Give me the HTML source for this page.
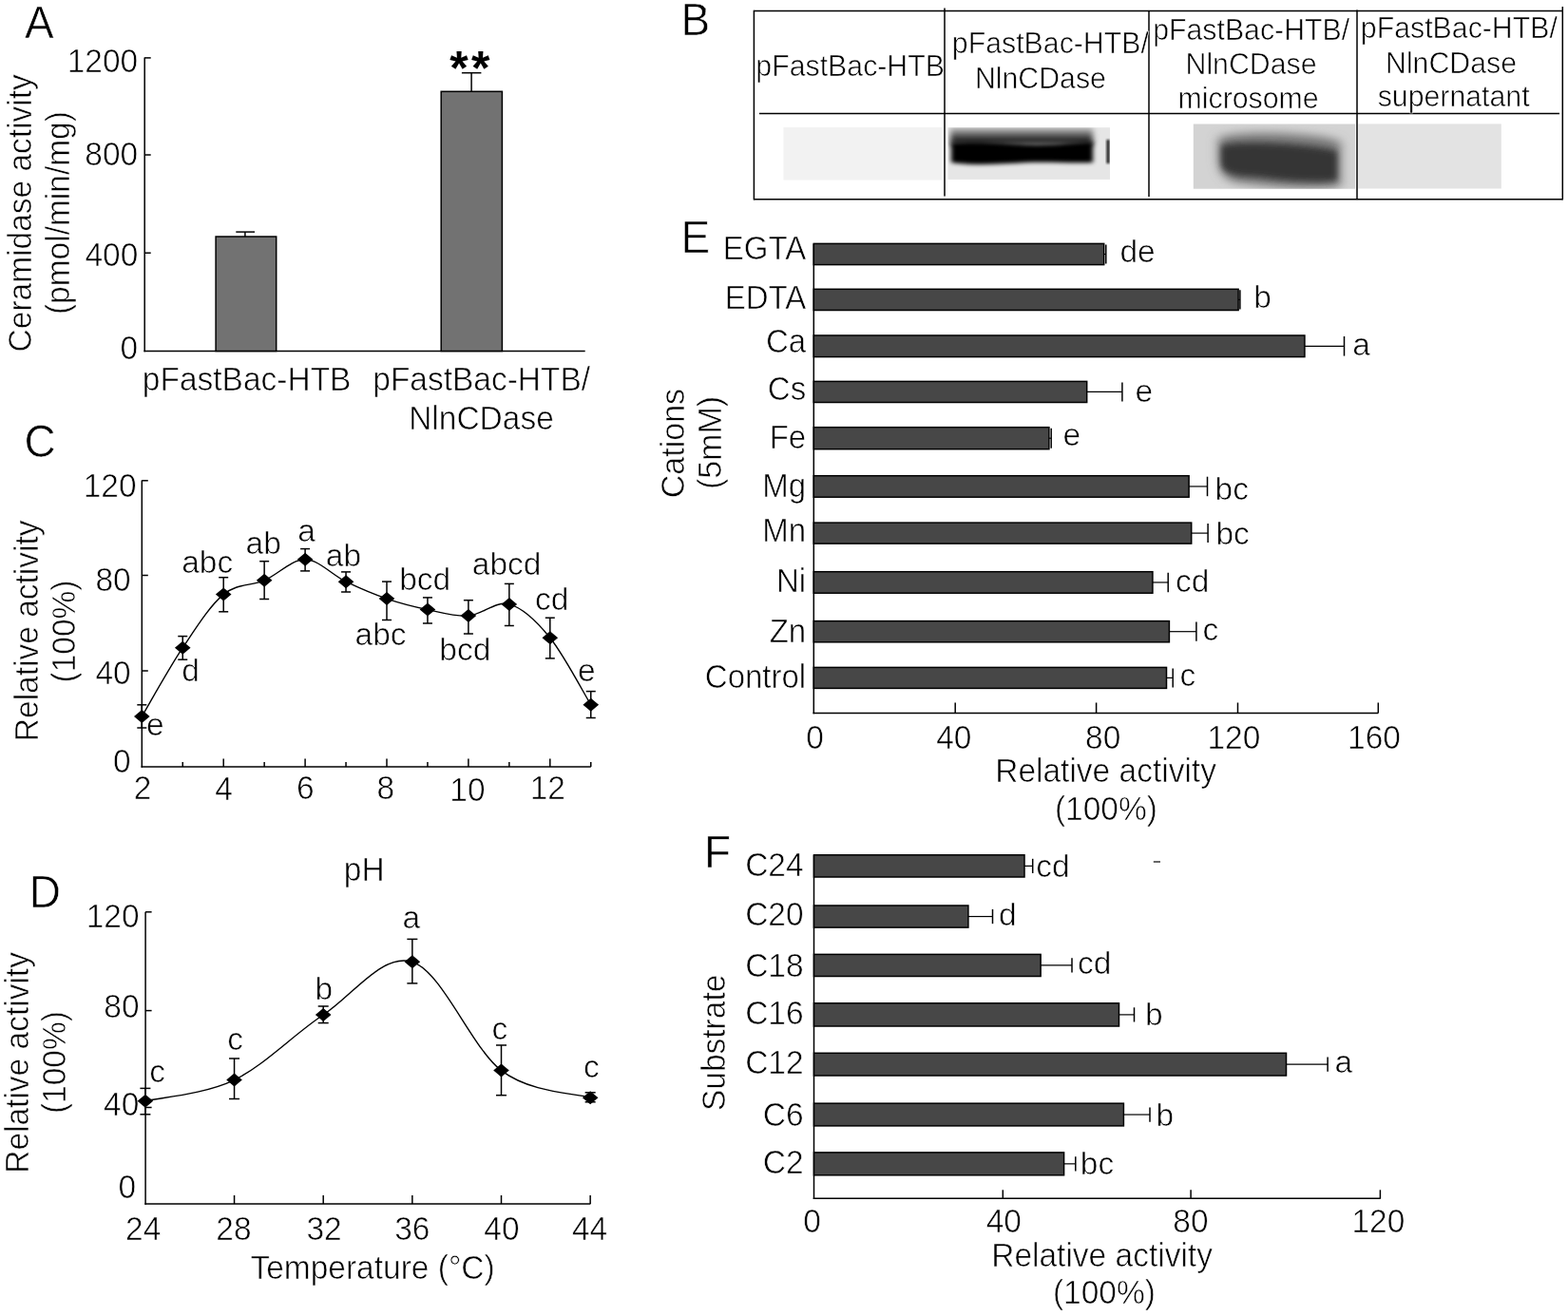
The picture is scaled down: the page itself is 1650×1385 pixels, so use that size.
<!DOCTYPE html>
<html><head><meta charset="utf-8"><title>Figure</title>
<style>
html,body{margin:0;padding:0;background:#fff;}
svg{display:block;}
svg text{font-family:"Liberation Sans", Arial, sans-serif;fill:#000;}
</style></head>
<body>
<svg width="1650" height="1385" viewBox="0 0 1650 1385">
<rect x="0" y="0" width="1650" height="1385" fill="#fff"/>
<text transform="translate(25.91,40.00) scale(1,1.045)" font-size="46" stroke="#fff" stroke-width="0.6">A</text>
<line x1="152.20" y1="60.40" x2="152.20" y2="370.25" stroke="#000" stroke-width="1.5"/>
<line x1="151.45" y1="369.50" x2="615.70" y2="369.50" stroke="#000" stroke-width="1.5"/>
<line x1="152.20" y1="60.90" x2="158.70" y2="60.90" stroke="#000" stroke-width="1.5"/>
<line x1="152.20" y1="163.00" x2="158.70" y2="163.00" stroke="#000" stroke-width="1.5"/>
<line x1="152.20" y1="266.20" x2="158.70" y2="266.20" stroke="#000" stroke-width="1.5"/>
<text transform="translate(70.70,75.55) scale(1,1.045)" font-size="33.5" stroke="#fff" stroke-width="0.6">1200</text>
<text transform="translate(89.33,174.15) scale(1,1.045)" font-size="33.5" stroke="#fff" stroke-width="0.6">800</text>
<text transform="translate(89.43,279.85) scale(1,1.045)" font-size="33.5" stroke="#fff" stroke-width="0.6">400</text>
<text transform="translate(126.58,378.15) scale(1,1.045)" font-size="33.5" stroke="#fff" stroke-width="0.6">0</text>
<rect x="227.10" y="249.00" width="63.60" height="120.50" fill="#727272" stroke="#000" stroke-width="1.5"/>
<rect x="464.20" y="96.30" width="64.20" height="273.20" fill="#727272" stroke="#000" stroke-width="1.5"/>
<line x1="257.90" y1="249.00" x2="257.90" y2="244.10" stroke="#000" stroke-width="1.5"/>
<line x1="248.30" y1="244.10" x2="268.00" y2="244.10" stroke="#000" stroke-width="1.5"/>
<line x1="496.10" y1="96.30" x2="496.10" y2="76.70" stroke="#000" stroke-width="1.5"/>
<line x1="485.90" y1="76.70" x2="506.40" y2="76.70" stroke="#000" stroke-width="1.5"/>
<text transform="translate(473.15,88.60) scale(1,1.0)" font-size="50" font-weight="bold" letter-spacing="3.5">**</text>
<text transform="translate(149.86,411.00) scale(1,1.045)" font-size="33.5" stroke="#fff" stroke-width="0.6">pFastBac-HTB</text>
<text transform="translate(392.26,411.00) scale(1,1.045)" font-size="33.5" stroke="#fff" stroke-width="0.6">pFastBac-HTB/</text>
<text transform="translate(430.15,452.30) scale(1,1.045)" font-size="33.5" stroke="#fff" stroke-width="0.6">NlnCDase</text>
<text transform="translate(33.00,368.70) rotate(-90) scale(1,1.045)" x="-1.71" y="0" font-size="33.5" stroke="#fff" stroke-width="0.6">Ceramidase activity</text>
<text transform="translate(72.80,329.00) rotate(-90) scale(1,1.045)" x="-2.08" y="0" font-size="33.5" stroke="#fff" stroke-width="0.6">(pmol/min/mg)</text>
<text transform="translate(716.53,36.60) scale(1,1.045)" font-size="46" stroke="#fff" stroke-width="0.6">B</text>
<line x1="793.40" y1="11.50" x2="1644.30" y2="11.50" stroke="#000" stroke-width="1.5"/>
<line x1="793.40" y1="209.70" x2="1644.30" y2="209.70" stroke="#000" stroke-width="1.5"/>
<line x1="793.40" y1="10.75" x2="793.40" y2="210.45" stroke="#000" stroke-width="1.5"/>
<line x1="1644.30" y1="7.00" x2="1644.30" y2="210.45" stroke="#000" stroke-width="1.5"/>
<line x1="799.00" y1="119.50" x2="1641.00" y2="119.50" stroke="#000" stroke-width="1.5"/>
<line x1="994.00" y1="8.50" x2="994.00" y2="206.50" stroke="#000" stroke-width="1.5"/>
<line x1="1209.00" y1="11.50" x2="1209.00" y2="207.00" stroke="#000" stroke-width="1.5"/>
<line x1="1428.00" y1="10.50" x2="1428.00" y2="209.00" stroke="#000" stroke-width="1.5"/>
<text transform="translate(795.36,79.80) scale(1,1.045)" font-size="30.3" stroke="#fff" stroke-width="0.6">pFastBac-HTB</text>
<text transform="translate(1001.86,56.40) scale(1,1.045)" font-size="30.3" stroke="#fff" stroke-width="0.6">pFastBac-HTB/</text>
<text transform="translate(1025.92,92.90) scale(1,1.045)" font-size="30.3" stroke="#fff" stroke-width="0.6">NlnCDase</text>
<text transform="translate(1213.16,41.60) scale(1,1.045)" font-size="30.3" stroke="#fff" stroke-width="0.6">pFastBac-HTB/</text>
<text transform="translate(1247.52,78.10) scale(1,1.045)" font-size="30.3" stroke="#fff" stroke-width="0.6">NlnCDase</text>
<text transform="translate(1239.60,114.00) scale(1,1.045)" font-size="30.3" stroke="#fff" stroke-width="0.6">microsome</text>
<text transform="translate(1431.86,39.70) scale(1,1.045)" font-size="30.3" stroke="#fff" stroke-width="0.6">pFastBac-HTB/</text>
<text transform="translate(1458.02,77.00) scale(1,1.045)" font-size="30.3" stroke="#fff" stroke-width="0.6">NlnCDase</text>
<text transform="translate(1449.65,112.00) scale(1,1.045)" font-size="30.3" stroke="#fff" stroke-width="0.6">supernatant</text>
<defs>
<filter id="bl2" x="-10%" y="-40%" width="120%" height="180%"><feGaussianBlur stdDeviation="2.6 2.2"/></filter>
<filter id="bl2b" x="-10%" y="-40%" width="120%" height="180%"><feGaussianBlur stdDeviation="3 3"/></filter>
<filter id="bl1" x="-50%" y="-20%" width="200%" height="140%"><feGaussianBlur stdDeviation="1.2"/></filter>
<filter id="bl3" x="-20%" y="-50%" width="140%" height="200%"><feGaussianBlur stdDeviation="6 5"/></filter>
<filter id="bl3b" x="-20%" y="-50%" width="140%" height="200%"><feGaussianBlur stdDeviation="3.2 3.5"/></filter>
<clipPath id="cb2"><rect x="997.5" y="134.2" width="170.5" height="54.7"/></clipPath>
<clipPath id="cb3"><rect x="1255.8" y="130.5" width="170.4" height="68.2"/></clipPath>
<linearGradient id="g2" x1="0" y1="0" x2="0" y2="1">
<stop offset="0" stop-color="#c4c4c4"/><stop offset="0.3" stop-color="#7a7a7a"/><stop offset="0.65" stop-color="#262626"/><stop offset="1" stop-color="#000"/>
</linearGradient>
</defs>
<rect x="824.50" y="134.00" width="166.50" height="55.50" fill="#f2f2f2" stroke="none" stroke-width="0"/>
<rect x="997.5" y="134.2" width="170.5" height="54.7" fill="#e6e6e6"/>
<g clip-path="url(#cb2)"><g filter="url(#bl2b)"><rect x="1000" y="134" width="150" height="18" fill="url(#g2)"/></g><g filter="url(#bl2)"><path d="M1001,150 C1030,148 1060,151 1080,152 C1110,153 1135,149 1150,149 L1150,171 C1130,172 1100,170 1080,171 C1050,173 1020,174 1001,171 Z" fill="#000"/></g><g filter="url(#bl1)"><rect x="1164.5" y="147" width="3" height="25" fill="#111"/></g></g>
<rect x="1255.8" y="130.5" width="170.4" height="68.2" fill="#d3d3d3"/>
<g clip-path="url(#cb3)"><g filter="url(#bl3)"><path d="M1282,145 C1300,136 1390,139 1411,149 L1411,196 C1390,200 1340,198 1300,192 C1285,188 1281,176 1282,158 Z" fill="#7a7a7a"/></g><g filter="url(#bl3b)"><path d="M1285,153 C1310,147 1380,152 1407,159 L1407,190 C1380,193 1350,190 1320,186 C1300,186 1285,182 1285,172 Z" fill="#363636"/></g></g>
<rect x="1429.30" y="130.40" width="150.50" height="68.10" fill="#e3e3e3" stroke="none" stroke-width="0"/>
<text transform="translate(25.55,480.52) scale(1,1.045)" font-size="46" stroke="#fff" stroke-width="0.6">C</text>
<line x1="149.30" y1="505.50" x2="149.30" y2="807.85" stroke="#000" stroke-width="1.5"/>
<line x1="148.55" y1="807.10" x2="621.80" y2="807.10" stroke="#000" stroke-width="1.5"/>
<line x1="149.30" y1="505.80" x2="155.80" y2="505.80" stroke="#000" stroke-width="1.5"/>
<line x1="149.30" y1="605.50" x2="155.80" y2="605.50" stroke="#000" stroke-width="1.5"/>
<line x1="149.30" y1="706.00" x2="155.80" y2="706.00" stroke="#000" stroke-width="1.5"/>
<line x1="192.25" y1="807.10" x2="192.25" y2="802.10" stroke="#000" stroke-width="1.5"/>
<line x1="235.20" y1="807.10" x2="235.20" y2="798.50" stroke="#000" stroke-width="1.5"/>
<line x1="278.15" y1="807.10" x2="278.15" y2="802.10" stroke="#000" stroke-width="1.5"/>
<line x1="321.10" y1="807.10" x2="321.10" y2="798.50" stroke="#000" stroke-width="1.5"/>
<line x1="364.05" y1="807.10" x2="364.05" y2="802.10" stroke="#000" stroke-width="1.5"/>
<line x1="407.00" y1="807.10" x2="407.00" y2="798.50" stroke="#000" stroke-width="1.5"/>
<line x1="449.95" y1="807.10" x2="449.95" y2="802.10" stroke="#000" stroke-width="1.5"/>
<line x1="492.90" y1="807.10" x2="492.90" y2="798.50" stroke="#000" stroke-width="1.5"/>
<line x1="535.85" y1="807.10" x2="535.85" y2="802.10" stroke="#000" stroke-width="1.5"/>
<line x1="578.80" y1="807.10" x2="578.80" y2="798.50" stroke="#000" stroke-width="1.5"/>
<line x1="621.75" y1="807.10" x2="621.75" y2="802.10" stroke="#000" stroke-width="1.5"/>
<text transform="translate(87.73,522.55) scale(1,1.045)" font-size="33.5" stroke="#fff" stroke-width="0.6">120</text>
<text transform="translate(100.45,621.95) scale(1,1.045)" font-size="33.5" stroke="#fff" stroke-width="0.6">80</text>
<text transform="translate(100.45,719.95) scale(1,1.045)" font-size="33.5" stroke="#fff" stroke-width="0.6">40</text>
<text transform="translate(119.08,812.65) scale(1,1.045)" font-size="33.5" stroke="#fff" stroke-width="0.6">0</text>
<text transform="translate(140.69,841.30) scale(1,1.045)" font-size="33.5" stroke="#fff" stroke-width="0.6">2</text>
<text transform="translate(226.19,841.50) scale(1,1.045)" font-size="33.5" stroke="#fff" stroke-width="0.6">4</text>
<text transform="translate(312.07,841.15) scale(1,1.045)" font-size="33.5" stroke="#fff" stroke-width="0.6">6</text>
<text transform="translate(396.59,841.15) scale(1,1.045)" font-size="33.5" stroke="#fff" stroke-width="0.6">8</text>
<text transform="translate(473.35,843.15) scale(1,1.045)" font-size="33.5" stroke="#fff" stroke-width="0.6">10</text>
<text transform="translate(557.64,841.20) scale(1,1.045)" font-size="33.5" stroke="#fff" stroke-width="0.6">12</text>
<text transform="translate(39.80,777.40) rotate(-90) scale(1,1.045)" x="-2.75" y="0" font-size="33.5" stroke="#fff" stroke-width="0.6">Relative activity</text>
<text transform="translate(78.60,716.40) rotate(-90) scale(1,1.045)" x="-2.08" y="0" font-size="33.5" stroke="#fff" stroke-width="0.6">(100%)</text>
<path d="M149.30,754.00 C156.46,741.95 177.93,703.10 192.25,681.70 C206.57,660.30 220.88,637.42 235.20,625.60 C249.52,613.78 263.83,616.93 278.15,610.80 C292.47,604.67 306.78,588.57 321.10,588.80 C335.42,589.03 349.73,605.32 364.05,612.20 C378.37,619.08 392.68,625.20 407.00,630.10 C421.32,635.00 435.63,638.60 449.95,641.60 C464.27,644.60 478.58,649.05 492.90,648.10 C507.22,647.15 521.53,632.05 535.85,635.90 C550.17,639.75 564.48,653.57 578.80,671.20 C593.12,688.83 614.59,729.95 621.75,741.70" fill="none" stroke="#000" stroke-width="1.4"/>
<line x1="149.30" y1="741.80" x2="149.30" y2="766.00" stroke="#000" stroke-width="1.5"/>
<line x1="144.30" y1="741.80" x2="154.30" y2="741.80" stroke="#000" stroke-width="1.5"/>
<line x1="144.30" y1="766.00" x2="154.30" y2="766.00" stroke="#000" stroke-width="1.5"/>
<path d="M141.00,754.00 L149.30,747.00 L157.60,754.00 L149.30,761.00 Z" fill="#000"/>
<line x1="192.25" y1="669.60" x2="192.25" y2="694.20" stroke="#000" stroke-width="1.5"/>
<line x1="187.25" y1="669.60" x2="197.25" y2="669.60" stroke="#000" stroke-width="1.5"/>
<line x1="187.25" y1="694.20" x2="197.25" y2="694.20" stroke="#000" stroke-width="1.5"/>
<path d="M183.95,681.70 L192.25,674.70 L200.55,681.70 L192.25,688.70 Z" fill="#000"/>
<line x1="235.20" y1="607.70" x2="235.20" y2="643.80" stroke="#000" stroke-width="1.5"/>
<line x1="230.20" y1="607.70" x2="240.20" y2="607.70" stroke="#000" stroke-width="1.5"/>
<line x1="230.20" y1="643.80" x2="240.20" y2="643.80" stroke="#000" stroke-width="1.5"/>
<path d="M226.90,625.60 L235.20,618.60 L243.50,625.60 L235.20,632.60 Z" fill="#000"/>
<line x1="278.15" y1="590.70" x2="278.15" y2="630.50" stroke="#000" stroke-width="1.5"/>
<line x1="273.15" y1="590.70" x2="283.15" y2="590.70" stroke="#000" stroke-width="1.5"/>
<line x1="273.15" y1="630.50" x2="283.15" y2="630.50" stroke="#000" stroke-width="1.5"/>
<path d="M269.85,610.80 L278.15,603.80 L286.45,610.80 L278.15,617.80 Z" fill="#000"/>
<line x1="321.10" y1="577.60" x2="321.10" y2="600.90" stroke="#000" stroke-width="1.5"/>
<line x1="316.10" y1="577.60" x2="326.10" y2="577.60" stroke="#000" stroke-width="1.5"/>
<line x1="316.10" y1="600.90" x2="326.10" y2="600.90" stroke="#000" stroke-width="1.5"/>
<path d="M312.80,588.80 L321.10,581.80 L329.40,588.80 L321.10,595.80 Z" fill="#000"/>
<line x1="364.05" y1="601.90" x2="364.05" y2="623.00" stroke="#000" stroke-width="1.5"/>
<line x1="359.05" y1="601.90" x2="369.05" y2="601.90" stroke="#000" stroke-width="1.5"/>
<line x1="359.05" y1="623.00" x2="369.05" y2="623.00" stroke="#000" stroke-width="1.5"/>
<path d="M355.75,612.20 L364.05,605.20 L372.35,612.20 L364.05,619.20 Z" fill="#000"/>
<line x1="407.00" y1="612.10" x2="407.00" y2="652.50" stroke="#000" stroke-width="1.5"/>
<line x1="402.00" y1="612.10" x2="412.00" y2="612.10" stroke="#000" stroke-width="1.5"/>
<line x1="402.00" y1="652.50" x2="412.00" y2="652.50" stroke="#000" stroke-width="1.5"/>
<path d="M398.70,630.10 L407.00,623.10 L415.30,630.10 L407.00,637.10 Z" fill="#000"/>
<line x1="449.95" y1="628.90" x2="449.95" y2="656.00" stroke="#000" stroke-width="1.5"/>
<line x1="444.95" y1="628.90" x2="454.95" y2="628.90" stroke="#000" stroke-width="1.5"/>
<line x1="444.95" y1="656.00" x2="454.95" y2="656.00" stroke="#000" stroke-width="1.5"/>
<path d="M441.65,641.60 L449.95,634.60 L458.25,641.60 L449.95,648.60 Z" fill="#000"/>
<line x1="492.90" y1="631.70" x2="492.90" y2="667.00" stroke="#000" stroke-width="1.5"/>
<line x1="487.90" y1="631.70" x2="497.90" y2="631.70" stroke="#000" stroke-width="1.5"/>
<line x1="487.90" y1="667.00" x2="497.90" y2="667.00" stroke="#000" stroke-width="1.5"/>
<path d="M484.60,648.10 L492.90,641.10 L501.20,648.10 L492.90,655.10 Z" fill="#000"/>
<line x1="535.85" y1="614.40" x2="535.85" y2="658.50" stroke="#000" stroke-width="1.5"/>
<line x1="530.85" y1="614.40" x2="540.85" y2="614.40" stroke="#000" stroke-width="1.5"/>
<line x1="530.85" y1="658.50" x2="540.85" y2="658.50" stroke="#000" stroke-width="1.5"/>
<path d="M527.55,635.90 L535.85,628.90 L544.15,635.90 L535.85,642.90 Z" fill="#000"/>
<line x1="578.80" y1="650.20" x2="578.80" y2="692.90" stroke="#000" stroke-width="1.5"/>
<line x1="573.80" y1="650.20" x2="583.80" y2="650.20" stroke="#000" stroke-width="1.5"/>
<line x1="573.80" y1="692.90" x2="583.80" y2="692.90" stroke="#000" stroke-width="1.5"/>
<path d="M570.50,671.20 L578.80,664.20 L587.10,671.20 L578.80,678.20 Z" fill="#000"/>
<line x1="621.75" y1="727.60" x2="621.75" y2="755.50" stroke="#000" stroke-width="1.5"/>
<line x1="616.75" y1="727.60" x2="626.75" y2="727.60" stroke="#000" stroke-width="1.5"/>
<line x1="616.75" y1="755.50" x2="626.75" y2="755.50" stroke="#000" stroke-width="1.5"/>
<path d="M613.45,741.70 L621.75,734.70 L630.05,741.70 L621.75,748.70 Z" fill="#000"/>
<text transform="translate(153.89,774.30) scale(1,1.0)" font-size="33.5" stroke="#fff" stroke-width="0.6">e</text>
<text transform="translate(191.19,716.70) scale(1,1.0)" font-size="33.5" stroke="#fff" stroke-width="0.6">d</text>
<text transform="translate(191.19,603.00) scale(1,1.0)" font-size="33.5" stroke="#fff" stroke-width="0.6">abc</text>
<text transform="translate(258.59,582.70) scale(1,1.0)" font-size="33.5" stroke="#fff" stroke-width="0.6">ab</text>
<text transform="translate(313.29,569.80) scale(1,1.0)" font-size="33.5" stroke="#fff" stroke-width="0.6">a</text>
<text transform="translate(342.79,595.50) scale(1,1.0)" font-size="33.5" stroke="#fff" stroke-width="0.6">ab</text>
<text transform="translate(373.59,678.80) scale(1,1.0)" font-size="33.5" stroke="#fff" stroke-width="0.6">abc</text>
<text transform="translate(420.22,621.10) scale(1,1.0)" font-size="33.5" stroke="#fff" stroke-width="0.6">bcd</text>
<text transform="translate(462.32,695.00) scale(1,1.0)" font-size="33.5" stroke="#fff" stroke-width="0.6">bcd</text>
<text transform="translate(496.79,604.70) scale(1,1.0)" font-size="33.5" stroke="#fff" stroke-width="0.6">abcd</text>
<text transform="translate(563.09,642.30) scale(1,1.0)" font-size="33.5" stroke="#fff" stroke-width="0.6">cd</text>
<text transform="translate(608.09,716.70) scale(1,1.0)" font-size="33.5" stroke="#fff" stroke-width="0.6">e</text>
<text transform="translate(30.83,954.80) scale(1,1.045)" font-size="46" stroke="#fff" stroke-width="0.6">D</text>
<line x1="153.10" y1="959.80" x2="153.10" y2="1267.75" stroke="#000" stroke-width="1.5"/>
<line x1="152.35" y1="1267.00" x2="621.40" y2="1267.00" stroke="#000" stroke-width="1.5"/>
<line x1="153.10" y1="959.80" x2="159.60" y2="959.80" stroke="#000" stroke-width="1.5"/>
<line x1="153.10" y1="1063.60" x2="159.60" y2="1063.60" stroke="#000" stroke-width="1.5"/>
<line x1="153.10" y1="1165.50" x2="159.60" y2="1165.50" stroke="#000" stroke-width="1.5"/>
<line x1="246.55" y1="1267.00" x2="246.55" y2="1258.00" stroke="#000" stroke-width="1.5"/>
<line x1="340.20" y1="1267.00" x2="340.20" y2="1258.00" stroke="#000" stroke-width="1.5"/>
<line x1="433.85" y1="1267.00" x2="433.85" y2="1258.00" stroke="#000" stroke-width="1.5"/>
<line x1="527.50" y1="1267.00" x2="527.50" y2="1258.00" stroke="#000" stroke-width="1.5"/>
<line x1="621.15" y1="1267.00" x2="621.15" y2="1258.00" stroke="#000" stroke-width="1.5"/>
<text transform="translate(90.73,975.85) scale(1,1.045)" font-size="33.5" stroke="#fff" stroke-width="0.6">120</text>
<text transform="translate(109.35,1071.45) scale(1,1.045)" font-size="33.5" stroke="#fff" stroke-width="0.6">80</text>
<text transform="translate(109.05,1174.45) scale(1,1.045)" font-size="33.5" stroke="#fff" stroke-width="0.6">40</text>
<text transform="translate(124.48,1260.85) scale(1,1.045)" font-size="33.5" stroke="#fff" stroke-width="0.6">0</text>
<text transform="translate(132.02,1305.20) scale(1,1.045)" font-size="33.5" stroke="#fff" stroke-width="0.6">24</text>
<text transform="translate(227.36,1304.85) scale(1,1.045)" font-size="33.5" stroke="#fff" stroke-width="0.6">28</text>
<text transform="translate(322.38,1304.85) scale(1,1.045)" font-size="33.5" stroke="#fff" stroke-width="0.6">32</text>
<text transform="translate(415.17,1304.85) scale(1,1.045)" font-size="33.5" stroke="#fff" stroke-width="0.6">36</text>
<text transform="translate(509.34,1304.85) scale(1,1.045)" font-size="33.5" stroke="#fff" stroke-width="0.6">40</text>
<text transform="translate(601.97,1305.20) scale(1,1.045)" font-size="33.5" stroke="#fff" stroke-width="0.6">44</text>
<text transform="translate(263.46,1345.90) scale(1,1.045)" font-size="33.5" stroke="#fff" stroke-width="0.6">Temperature (°C)</text>
<text transform="translate(361.86,926.80) scale(1,1.045)" font-size="33.5" stroke="#fff" stroke-width="0.6">pH</text>
<text transform="translate(29.50,1232.00) rotate(-90) scale(1,1.045)" x="-2.75" y="0" font-size="33.5" stroke="#fff" stroke-width="0.6">Relative activity</text>
<text transform="translate(68.50,1170.00) rotate(-90) scale(1,1.045)" x="-2.08" y="0" font-size="33.5" stroke="#fff" stroke-width="0.6">(100%)</text>
<path d="M152.90,1158.80 C168.51,1155.10 215.33,1151.73 246.55,1136.60 C277.77,1121.47 308.98,1088.72 340.20,1068.00 C371.42,1047.28 402.63,1002.53 433.85,1012.30 C465.07,1022.07 496.28,1102.78 527.50,1126.60 C558.72,1150.42 605.54,1150.43 621.15,1155.20" fill="none" stroke="#000" stroke-width="1.4"/>
<line x1="152.90" y1="1145.40" x2="152.90" y2="1172.80" stroke="#000" stroke-width="1.5"/>
<line x1="147.40" y1="1145.40" x2="158.40" y2="1145.40" stroke="#000" stroke-width="1.5"/>
<line x1="147.40" y1="1172.80" x2="158.40" y2="1172.80" stroke="#000" stroke-width="1.5"/>
<path d="M144.60,1158.80 L152.90,1151.80 L161.20,1158.80 L152.90,1165.80 Z" fill="#000"/>
<line x1="246.55" y1="1114.00" x2="246.55" y2="1156.50" stroke="#000" stroke-width="1.5"/>
<line x1="241.05" y1="1114.00" x2="252.05" y2="1114.00" stroke="#000" stroke-width="1.5"/>
<line x1="241.05" y1="1156.50" x2="252.05" y2="1156.50" stroke="#000" stroke-width="1.5"/>
<path d="M238.25,1136.60 L246.55,1129.60 L254.85,1136.60 L246.55,1143.60 Z" fill="#000"/>
<line x1="340.20" y1="1059.00" x2="340.20" y2="1076.60" stroke="#000" stroke-width="1.5"/>
<line x1="334.70" y1="1059.00" x2="345.70" y2="1059.00" stroke="#000" stroke-width="1.5"/>
<line x1="334.70" y1="1076.60" x2="345.70" y2="1076.60" stroke="#000" stroke-width="1.5"/>
<path d="M331.90,1068.00 L340.20,1061.00 L348.50,1068.00 L340.20,1075.00 Z" fill="#000"/>
<line x1="433.85" y1="988.40" x2="433.85" y2="1034.90" stroke="#000" stroke-width="1.5"/>
<line x1="428.35" y1="988.40" x2="439.35" y2="988.40" stroke="#000" stroke-width="1.5"/>
<line x1="428.35" y1="1034.90" x2="439.35" y2="1034.90" stroke="#000" stroke-width="1.5"/>
<path d="M425.55,1012.30 L433.85,1005.30 L442.15,1012.30 L433.85,1019.30 Z" fill="#000"/>
<line x1="527.50" y1="1100.00" x2="527.50" y2="1152.70" stroke="#000" stroke-width="1.5"/>
<line x1="522.00" y1="1100.00" x2="533.00" y2="1100.00" stroke="#000" stroke-width="1.5"/>
<line x1="522.00" y1="1152.70" x2="533.00" y2="1152.70" stroke="#000" stroke-width="1.5"/>
<path d="M519.20,1126.60 L527.50,1119.60 L535.80,1126.60 L527.50,1133.60 Z" fill="#000"/>
<line x1="621.15" y1="1149.80" x2="621.15" y2="1159.80" stroke="#000" stroke-width="1.5"/>
<line x1="615.65" y1="1149.80" x2="626.65" y2="1149.80" stroke="#000" stroke-width="1.5"/>
<line x1="615.65" y1="1159.80" x2="626.65" y2="1159.80" stroke="#000" stroke-width="1.5"/>
<path d="M612.85,1155.20 L621.15,1148.20 L629.45,1155.20 L621.15,1162.20 Z" fill="#000"/>
<text transform="translate(157.19,1139.20) scale(1,1.0)" font-size="33.5" stroke="#fff" stroke-width="0.6">c</text>
<text transform="translate(239.29,1105.10) scale(1,1.0)" font-size="33.5" stroke="#fff" stroke-width="0.6">c</text>
<text transform="translate(331.42,1051.50) scale(1,1.0)" font-size="33.5" stroke="#fff" stroke-width="0.6">b</text>
<text transform="translate(423.39,976.50) scale(1,1.0)" font-size="33.5" stroke="#fff" stroke-width="0.6">a</text>
<text transform="translate(517.39,1094.40) scale(1,1.0)" font-size="33.5" stroke="#fff" stroke-width="0.6">c</text>
<text transform="translate(613.89,1134.40) scale(1,1.0)" font-size="33.5" stroke="#fff" stroke-width="0.6">c</text>
<text transform="translate(716.53,265.50) scale(1,1.045)" font-size="46" stroke="#fff" stroke-width="0.6">E</text>
<line x1="856.30" y1="256.40" x2="856.30" y2="751.25" stroke="#000" stroke-width="1.5"/>
<line x1="855.55" y1="750.50" x2="1450.30" y2="750.50" stroke="#000" stroke-width="1.5"/>
<line x1="1005.20" y1="750.50" x2="1005.20" y2="739.50" stroke="#000" stroke-width="1.5"/>
<line x1="1153.60" y1="750.50" x2="1153.60" y2="739.50" stroke="#000" stroke-width="1.5"/>
<line x1="1302.50" y1="750.50" x2="1302.50" y2="739.50" stroke="#000" stroke-width="1.5"/>
<line x1="1450.30" y1="750.50" x2="1450.30" y2="739.50" stroke="#000" stroke-width="1.5"/>
<rect x="856.30" y="256.40" width="305.40" height="22.20" fill="#474747" stroke="#000" stroke-width="1.5"/>
<line x1="1161.70" y1="267.50" x2="1163.80" y2="267.50" stroke="#000" stroke-width="1.2"/>
<line x1="1163.80" y1="257.40" x2="1163.80" y2="277.60" stroke="#000" stroke-width="1.5"/>
<text transform="translate(1178.39,276.40) scale(1,1.0)" font-size="33.5" stroke="#fff" stroke-width="0.6">de</text>
<text transform="translate(760.80,273.00) scale(1,1.045)" font-size="33" stroke="#fff" stroke-width="0.6">EGTA</text>
<rect x="856.30" y="304.30" width="446.80" height="22.20" fill="#474747" stroke="#000" stroke-width="1.5"/>
<line x1="1303.10" y1="315.40" x2="1304.90" y2="315.40" stroke="#000" stroke-width="1.2"/>
<line x1="1304.90" y1="305.30" x2="1304.90" y2="325.50" stroke="#000" stroke-width="1.5"/>
<text transform="translate(1319.32,324.40) scale(1,1.0)" font-size="33.5" stroke="#fff" stroke-width="0.6">b</text>
<text transform="translate(762.64,324.70) scale(1,1.045)" font-size="33" stroke="#fff" stroke-width="0.6">EDTA</text>
<rect x="856.30" y="353.00" width="516.60" height="22.60" fill="#474747" stroke="#000" stroke-width="1.5"/>
<line x1="1372.90" y1="364.30" x2="1414.50" y2="364.30" stroke="#000" stroke-width="1.2"/>
<line x1="1414.50" y1="354.00" x2="1414.50" y2="374.60" stroke="#000" stroke-width="1.5"/>
<text transform="translate(1423.29,373.80) scale(1,1.0)" font-size="33.5" stroke="#fff" stroke-width="0.6">a</text>
<text transform="translate(806.02,371.20) scale(1,1.045)" font-size="33" stroke="#fff" stroke-width="0.6">Ca</text>
<rect x="856.30" y="401.40" width="287.40" height="22.10" fill="#474747" stroke="#000" stroke-width="1.5"/>
<line x1="1143.70" y1="412.45" x2="1180.90" y2="412.45" stroke="#000" stroke-width="1.2"/>
<line x1="1180.90" y1="402.40" x2="1180.90" y2="422.50" stroke="#000" stroke-width="1.5"/>
<text transform="translate(1194.39,422.70) scale(1,1.0)" font-size="33.5" stroke="#fff" stroke-width="0.6">e</text>
<text transform="translate(807.87,421.10) scale(1,1.045)" font-size="33" stroke="#fff" stroke-width="0.6">Cs</text>
<rect x="856.30" y="449.70" width="247.60" height="23.00" fill="#474747" stroke="#000" stroke-width="1.5"/>
<line x1="1103.90" y1="461.20" x2="1106.20" y2="461.20" stroke="#000" stroke-width="1.2"/>
<line x1="1106.20" y1="450.70" x2="1106.20" y2="471.70" stroke="#000" stroke-width="1.5"/>
<text transform="translate(1118.49,468.70) scale(1,1.0)" font-size="33.5" stroke="#fff" stroke-width="0.6">e</text>
<text transform="translate(809.69,471.70) scale(1,1.045)" font-size="33" stroke="#fff" stroke-width="0.6">Fe</text>
<rect x="856.30" y="500.70" width="394.80" height="22.50" fill="#474747" stroke="#000" stroke-width="1.5"/>
<line x1="1251.10" y1="511.95" x2="1270.50" y2="511.95" stroke="#000" stroke-width="1.2"/>
<line x1="1270.50" y1="501.70" x2="1270.50" y2="522.20" stroke="#000" stroke-width="1.5"/>
<text transform="translate(1278.52,525.80) scale(1,1.0)" font-size="33.5" stroke="#fff" stroke-width="0.6">bc</text>
<text transform="translate(802.36,522.70) scale(1,1.045)" font-size="33" stroke="#fff" stroke-width="0.6">Mg</text>
<rect x="856.30" y="550.10" width="397.40" height="22.00" fill="#474747" stroke="#000" stroke-width="1.5"/>
<line x1="1253.70" y1="561.10" x2="1271.10" y2="561.10" stroke="#000" stroke-width="1.2"/>
<line x1="1271.10" y1="551.10" x2="1271.10" y2="571.10" stroke="#000" stroke-width="1.5"/>
<text transform="translate(1279.42,573.20) scale(1,1.0)" font-size="33.5" stroke="#fff" stroke-width="0.6">bc</text>
<text transform="translate(802.36,570.00) scale(1,1.045)" font-size="33" stroke="#fff" stroke-width="0.6">Mn</text>
<rect x="856.30" y="601.70" width="356.60" height="22.50" fill="#474747" stroke="#000" stroke-width="1.5"/>
<line x1="1212.90" y1="612.95" x2="1229.20" y2="612.95" stroke="#000" stroke-width="1.2"/>
<line x1="1229.20" y1="602.70" x2="1229.20" y2="623.20" stroke="#000" stroke-width="1.5"/>
<text transform="translate(1237.09,622.70) scale(1,1.0)" font-size="33.5" stroke="#fff" stroke-width="0.6">cd</text>
<text transform="translate(817.04,622.90) scale(1,1.045)" font-size="33" stroke="#fff" stroke-width="0.6">Ni</text>
<rect x="856.30" y="653.60" width="374.10" height="22.20" fill="#474747" stroke="#000" stroke-width="1.5"/>
<line x1="1230.40" y1="664.70" x2="1258.90" y2="664.70" stroke="#000" stroke-width="1.2"/>
<line x1="1258.90" y1="654.60" x2="1258.90" y2="674.80" stroke="#000" stroke-width="1.5"/>
<text transform="translate(1265.59,674.20) scale(1,1.0)" font-size="33.5" stroke="#fff" stroke-width="0.6">c</text>
<text transform="translate(809.69,675.80) scale(1,1.045)" font-size="33" stroke="#fff" stroke-width="0.6">Zn</text>
<rect x="856.30" y="702.40" width="371.20" height="22.00" fill="#474747" stroke="#000" stroke-width="1.5"/>
<line x1="1227.50" y1="713.40" x2="1234.20" y2="713.40" stroke="#000" stroke-width="1.2"/>
<line x1="1234.20" y1="703.40" x2="1234.20" y2="723.40" stroke="#000" stroke-width="1.5"/>
<text transform="translate(1241.49,721.60) scale(1,1.0)" font-size="33.5" stroke="#fff" stroke-width="0.6">c</text>
<text transform="translate(741.82,724.40) scale(1,1.045)" font-size="33" stroke="#fff" stroke-width="0.6">Control</text>
<text transform="translate(848.29,788.00) scale(1,1.045)" font-size="33.5" stroke="#fff" stroke-width="0.6">0</text>
<text transform="translate(985.24,788.00) scale(1,1.045)" font-size="33.5" stroke="#fff" stroke-width="0.6">40</text>
<text transform="translate(1142.11,788.00) scale(1,1.045)" font-size="33.5" stroke="#fff" stroke-width="0.6">80</text>
<text transform="translate(1270.44,788.00) scale(1,1.045)" font-size="33.5" stroke="#fff" stroke-width="0.6">120</text>
<text transform="translate(1418.04,788.00) scale(1,1.045)" font-size="33.5" stroke="#fff" stroke-width="0.6">160</text>
<text transform="translate(1047.25,823.20) scale(1,1.045)" font-size="33.5" stroke="#fff" stroke-width="0.6">Relative activity</text>
<text transform="translate(1109.92,863.20) scale(1,1.045)" font-size="33.5" stroke="#fff" stroke-width="0.6">(100%)</text>
<text transform="translate(720.30,522.50) rotate(-90) scale(1,1.045)" x="-1.73" y="0" font-size="34.0" stroke="#fff" stroke-width="0.6">Cations</text>
<text transform="translate(759.00,513.00) rotate(-90) scale(1,1.045)" x="-2.11" y="0" font-size="34.0" stroke="#fff" stroke-width="0.6">(5mM)</text>
<text transform="translate(741.03,913.40) scale(1,1.045)" font-size="46" stroke="#fff" stroke-width="0.6">F</text>
<line x1="856.50" y1="899.80" x2="856.50" y2="1262.05" stroke="#000" stroke-width="1.5"/>
<line x1="855.75" y1="1261.30" x2="1452.80" y2="1261.30" stroke="#000" stroke-width="1.5"/>
<line x1="1055.30" y1="1261.30" x2="1055.30" y2="1252.30" stroke="#000" stroke-width="1.5"/>
<line x1="1253.10" y1="1261.30" x2="1253.10" y2="1252.30" stroke="#000" stroke-width="1.5"/>
<line x1="1452.40" y1="1261.30" x2="1452.40" y2="1252.30" stroke="#000" stroke-width="1.5"/>
<rect x="856.50" y="899.80" width="221.50" height="23.20" fill="#474747" stroke="#000" stroke-width="1.5"/>
<line x1="1078.00" y1="911.40" x2="1086.70" y2="911.40" stroke="#000" stroke-width="1.2"/>
<line x1="1086.70" y1="903.80" x2="1086.70" y2="919.00" stroke="#000" stroke-width="1.5"/>
<text transform="translate(1090.19,922.90) scale(1,1.0)" font-size="33.5" stroke="#fff" stroke-width="0.6">cd</text>
<text transform="translate(784.14,922.00) scale(1,1.045)" font-size="33.5" stroke="#fff" stroke-width="0.6">C24</text>
<rect x="856.50" y="953.00" width="162.40" height="23.10" fill="#474747" stroke="#000" stroke-width="1.5"/>
<line x1="1018.90" y1="964.55" x2="1044.50" y2="964.55" stroke="#000" stroke-width="1.2"/>
<line x1="1044.50" y1="956.95" x2="1044.50" y2="972.15" stroke="#000" stroke-width="1.5"/>
<text transform="translate(1050.99,973.80) scale(1,1.0)" font-size="33.5" stroke="#fff" stroke-width="0.6">d</text>
<text transform="translate(784.14,974.00) scale(1,1.045)" font-size="33.5" stroke="#fff" stroke-width="0.6">C20</text>
<rect x="856.50" y="1004.40" width="238.60" height="23.10" fill="#474747" stroke="#000" stroke-width="1.5"/>
<line x1="1095.10" y1="1015.95" x2="1128.00" y2="1015.95" stroke="#000" stroke-width="1.2"/>
<line x1="1128.00" y1="1008.35" x2="1128.00" y2="1023.55" stroke="#000" stroke-width="1.5"/>
<text transform="translate(1133.89,1025.30) scale(1,1.0)" font-size="33.5" stroke="#fff" stroke-width="0.6">cd</text>
<text transform="translate(784.14,1027.50) scale(1,1.045)" font-size="33.5" stroke="#fff" stroke-width="0.6">C18</text>
<rect x="856.50" y="1055.80" width="321.00" height="24.20" fill="#474747" stroke="#000" stroke-width="1.5"/>
<line x1="1177.50" y1="1067.90" x2="1193.50" y2="1067.90" stroke="#000" stroke-width="1.2"/>
<line x1="1193.50" y1="1060.30" x2="1193.50" y2="1075.50" stroke="#000" stroke-width="1.5"/>
<text transform="translate(1204.92,1079.40) scale(1,1.0)" font-size="33.5" stroke="#fff" stroke-width="0.6">b</text>
<text transform="translate(784.14,1078.00) scale(1,1.045)" font-size="33.5" stroke="#fff" stroke-width="0.6">C16</text>
<rect x="856.50" y="1108.30" width="497.00" height="23.70" fill="#474747" stroke="#000" stroke-width="1.5"/>
<line x1="1353.50" y1="1120.15" x2="1397.10" y2="1120.15" stroke="#000" stroke-width="1.2"/>
<line x1="1397.10" y1="1112.55" x2="1397.10" y2="1127.75" stroke="#000" stroke-width="1.5"/>
<text transform="translate(1404.39,1129.40) scale(1,1.0)" font-size="33.5" stroke="#fff" stroke-width="0.6">a</text>
<text transform="translate(784.14,1130.00) scale(1,1.045)" font-size="33.5" stroke="#fff" stroke-width="0.6">C12</text>
<rect x="856.50" y="1161.20" width="325.90" height="23.70" fill="#474747" stroke="#000" stroke-width="1.5"/>
<line x1="1182.40" y1="1173.05" x2="1210.00" y2="1173.05" stroke="#000" stroke-width="1.2"/>
<line x1="1210.00" y1="1165.45" x2="1210.00" y2="1180.65" stroke="#000" stroke-width="1.5"/>
<text transform="translate(1216.62,1184.70) scale(1,1.0)" font-size="33.5" stroke="#fff" stroke-width="0.6">b</text>
<text transform="translate(802.78,1184.90) scale(1,1.045)" font-size="33.5" stroke="#fff" stroke-width="0.6">C6</text>
<rect x="856.50" y="1212.90" width="263.10" height="23.90" fill="#474747" stroke="#000" stroke-width="1.5"/>
<line x1="1119.60" y1="1224.85" x2="1131.80" y2="1224.85" stroke="#000" stroke-width="1.2"/>
<line x1="1131.80" y1="1217.25" x2="1131.80" y2="1232.45" stroke="#000" stroke-width="1.5"/>
<text transform="translate(1136.82,1235.60) scale(1,1.0)" font-size="33.5" stroke="#fff" stroke-width="0.6">bc</text>
<text transform="translate(802.78,1235.40) scale(1,1.045)" font-size="33.5" stroke="#fff" stroke-width="0.6">C2</text>
<line x1="1213.80" y1="907.00" x2="1221.00" y2="907.00" stroke="#000" stroke-width="1.2"/>
<text transform="translate(845.19,1296.60) scale(1,1.045)" font-size="33.5" stroke="#fff" stroke-width="0.6">0</text>
<text transform="translate(1037.64,1296.60) scale(1,1.045)" font-size="33.5" stroke="#fff" stroke-width="0.6">40</text>
<text transform="translate(1234.31,1296.60) scale(1,1.045)" font-size="33.5" stroke="#fff" stroke-width="0.6">80</text>
<text transform="translate(1422.44,1296.60) scale(1,1.045)" font-size="33.5" stroke="#fff" stroke-width="0.6">120</text>
<text transform="translate(1043.25,1333.20) scale(1,1.045)" font-size="33.5" stroke="#fff" stroke-width="0.6">Relative activity</text>
<text transform="translate(1107.92,1372.00) scale(1,1.045)" font-size="33.5" stroke="#fff" stroke-width="0.6">(100%)</text>
<text transform="translate(763.00,1167.50) rotate(-90) scale(1,1.045)" x="-1.54" y="0" font-size="33.5" stroke="#fff" stroke-width="0.6">Substrate</text>
</svg>
</body></html>
